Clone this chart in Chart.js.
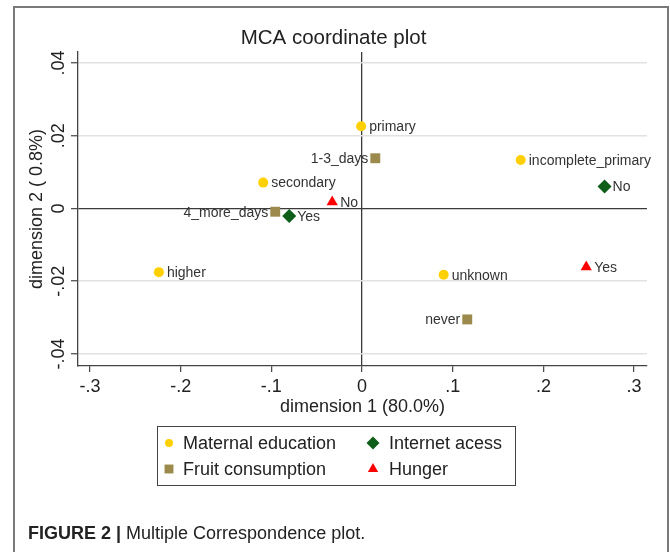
<!DOCTYPE html>
<html><head><meta charset="utf-8">
<script src="https://cdn.jsdelivr.net/npm/chart.js@4.4.1/dist/chart.umd.min.js"></script>
<style>
html,body{margin:0;padding:0;background:#fff;width:670px;height:552px;overflow:hidden;}
#frame{position:absolute;left:13px;top:6px;width:652px;height:600px;border:2px solid #7a7a7a;box-sizing:content-box;}
#wrap{position:absolute;left:0;top:0;width:670px;height:552px;}
#caption{position:absolute;left:28px;top:523px;font-size:18px;line-height:20px;font-family:"Liberation Sans",Arial,sans-serif;color:#222;white-space:nowrap;}
</style></head><body>
<div id="frame"></div>
<div id="wrap"><canvas id="c" width="670" height="552"></canvas></div>
<div id="caption"><b>FIGURE 2 |</b> Multiple Correspondence plot.</div>
<script>
// ---- data ----
const xTickValues = [-0.3, -0.2, -0.1, 0, 0.1, 0.2, 0.3];
const xTickLabels = ['-.3', '-.2', '-.1', '0', '.1', '.2', '.3'];
const yTickValues = [-0.04, -0.02, 0, 0.02, 0.04];
const yTickLabels = ['-.04', '-.02', '0', '.02', '.04'];

const eduNames = ['primary', 'incomplete_primary', 'secondary', 'higher', 'unknown'];
const eduX = [-0.001, 0.175, -0.109, -0.224, 0.090];
const eduY = [0.0226, 0.0133, 0.0071, -0.0175, -0.0182];

const fruitNames = ['1-3_days', '4_more_days', 'never'];
const fruitX = [0.0146, -0.0957, 0.116];
const fruitY = [0.0138, -0.0009, -0.0305];

const netNames = ['No', 'Yes'];
const netX = [0.2674, -0.0803];
const netY = [0.0060, -0.0021];

const hungerNames = ['No', 'Yes'];
const hungerX = [-0.0329, 0.2472];
const hungerY = [0.0018, -0.0161];

const seriesNames = ['Maternal education', 'Fruit consumption', 'Internet acess', 'Hunger'];

// ---- config ----
const FONT = '"Liberation Sans", Arial, Helvetica, sans-serif';
const leftLabelled = new Set(['1-3_days', '4_more_days', 'never']);

function pts(xs, ys) { return xs.map((x, i) => ({x: x, y: ys[i]})); }
function tickLabel(vals, labels) {
  return function (v) {
    const k = vals.findIndex(t => Math.abs(t - v) < 1e-9);
    return k >= 0 ? labels[k] : '';
  };
}
const isZero = ctx => ctx.tick && Math.abs(ctx.tick.value) < 1e-9;

const datasets = [
  {label: seriesNames[0], data: pts(eduX, eduY), names: eduNames, pointStyle: 'circle', pointRadius: 5, backgroundColor: '#FFD000', borderColor: '#FFD000'},
  {label: seriesNames[1], data: pts(fruitX, fruitY), names: fruitNames, pointStyle: 'rect', pointRadius: 7, backgroundColor: '#9B8A4B', borderColor: '#9B8A4B'},
  {label: seriesNames[2], data: pts(netX, netY), names: netNames, pointStyle: 'rectRot', pointRadius: 7, backgroundColor: '#0E5E19', borderColor: '#0E5E19'},
  {label: seriesNames[3], data: pts(hungerX, hungerY), names: hungerNames, pointStyle: 'triangle', pointRadius: 6.5, backgroundColor: '#FF0000', borderColor: '#FF0000'}
];
datasets.forEach(d => { d.borderWidth = 0; d.pointHoverRadius = d.pointRadius; });

const pointLabels = {
  id: 'pointLabels',
  afterDatasetsDraw(chart) {
    const ctx = chart.ctx;
    ctx.save();
    ctx.font = '14px ' + FONT;
    ctx.fillStyle = '#333';
    ctx.textBaseline = 'middle';
    chart.data.datasets.forEach((ds, di) => {
      chart.getDatasetMeta(di).data.forEach((el, i) => {
        const name = ds.names[i];
        if (leftLabelled.has(name)) {
          ctx.textAlign = 'right';
          ctx.fillText(name, el.x - 7, el.y + 1);
        } else {
          ctx.textAlign = 'left';
          ctx.fillText(name, el.x + 8, el.y + 1);
        }
      });
    });
    ctx.restore();
  }
};

const legendBox = {
  id: 'legendBox',
  afterDraw(chart) {
    const ctx = chart.ctx;
    const box = {left: 157, top: 426, right: 515, bottom: 485};
    const slots = [
      {mx: 169, tx: 183, y: 443},  // Maternal education
      {mx: 169, tx: 183, y: 469},  // Fruit consumption
      {mx: 373, tx: 389, y: 443},  // Internet acess
      {mx: 373, tx: 389, y: 469}   // Hunger
    ];
    const radii = [4, 6.3, 6.5, 6];
    ctx.save();
    ctx.strokeStyle = '#444';
    ctx.lineWidth = 1;
    ctx.strokeRect(box.left + 0.5, box.top + 0.5, box.right - box.left, box.bottom - box.top);
    ctx.font = '18px ' + FONT;
    ctx.textBaseline = 'middle';
    ctx.textAlign = 'left';
    chart.data.datasets.forEach((ds, i) => {
      const s = slots[i];
      ctx.fillStyle = ds.backgroundColor;
      ctx.strokeStyle = ds.backgroundColor;
      Chart.helpers.drawPoint(ctx, {pointStyle: ds.pointStyle, radius: radii[i], rotation: 0, borderWidth: 0}, s.mx, s.y);
      ctx.fillStyle = '#222';
      ctx.fillText(ds.label, s.tx, s.y + 1);
    });
    ctx.restore();
  }
};

new Chart(document.getElementById('c'), {
  type: 'scatter',
  data: {datasets: datasets},
  plugins: [pointLabels, legendBox],
  options: {
    responsive: false,
    animation: false,
    devicePixelRatio: 1,
    layout: {padding: {left: 20, top: 0, right: 23, bottom: 131}},
    plugins: {
      legend: {display: false},
      tooltip: {enabled: false},
      title: {
        display: true,
        text: 'MCA coordinate plot',
        color: '#222',
        font: {family: FONT, size: 20.5, weight: 'normal', lineHeight: 1.2},
        padding: {top: 26, bottom: 1.4}
      }
    },
    scales: {
      x: {
        type: 'linear',
        min: -0.3132, max: 0.3142,
        afterBuildTicks: s => { s.ticks = xTickValues.map(v => ({value: v})); },
        afterFit: s => { s.height = 55; },
        ticks: {callback: tickLabel(xTickValues, xTickLabels), autoSkip: false, minRotation: 0, maxRotation: 0,
                font: {family: FONT, size: 18}, color: '#222', padding: 4},
        grid: {
          color: ctx => isZero(ctx) ? '#3a3a3a' : 'rgba(0,0,0,0)',
          lineWidth: 1.3,
          tickColor: '#444', tickLength: 6, tickWidth: 1.2, drawTicks: true
        },
        border: {display: true, color: '#444', width: 1.3},
        title: {display: true, text: 'dimension 1 (80.0%)', color: '#222',
                font: {family: FONT, size: 18}, padding: {top: 4, bottom: 3}}
      },
      y: {
        type: 'linear',
        min: -0.0433, max: 0.043,
        afterBuildTicks: s => { s.ticks = yTickValues.map(v => ({value: v})); },
        afterFit: s => { s.width = 58; },
        ticks: {callback: tickLabel(yTickValues, yTickLabels), autoSkip: false, minRotation: 90, maxRotation: 90,
                crossAlign: 'center', padding: -3.5, font: {family: FONT, size: 18}, color: '#222'},
        grid: {
          color: ctx => isZero(ctx) ? '#3a3a3a' : '#e2e2e2',
          lineWidth: ctx => isZero(ctx) ? 1.3 : 1.5,
          tickColor: '#444', tickLength: 7, tickWidth: 1.2, drawTicks: true
        },
        border: {display: true, color: '#444', width: 1.3},
        title: {display: true, text: 'dimension 2 ( 0.8%)', color: '#222',
                font: {family: FONT, size: 18}, padding: {top: 6.5, bottom: 4}}
      }
    }
  }
});
</script>
</body></html>
